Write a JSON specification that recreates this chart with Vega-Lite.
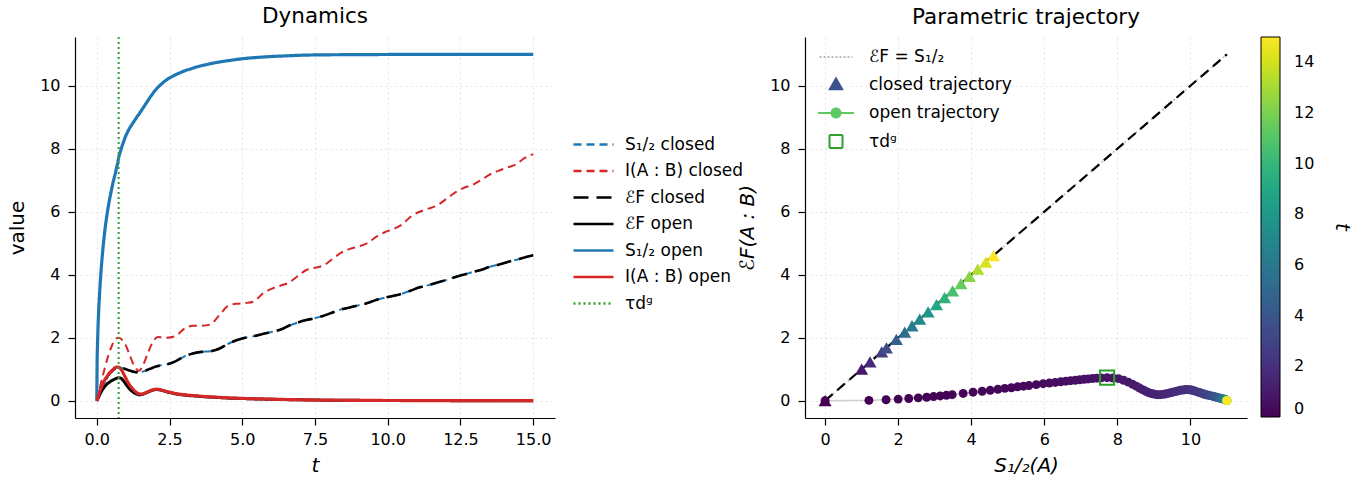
{
"$schema": "https://vega.github.io/schema/vega-lite/v6.json",
"background": "white",
"padding": {"left": 7, "top": 5, "right": 5, "bottom": 5},
"config": {
  "font": "DejaVu Sans",
  "view": {"stroke": null},
  "axis": {"domainColor": "black", "domainWidth": 1.2, "tickColor": "black", "tickSize": 7, "tickWidth": 1.2, "labelFontSize": 16, "labelColor": "black", "labelPadding": 6, "titleFontSize": 20, "titleFontWeight": "normal", "titleColor": "black", "gridColor": "#dddddd", "gridDash": [2, 3], "gridWidth": 0.8, "labelFont": "DejaVu Sans", "titleFont": "DejaVu Sans"},
  "title": {"fontSize": 21.5, "fontWeight": "normal", "font": "DejaVu Sans", "color": "black", "baseline": "alphabetic", "offset": 9},
  "legend": {"labelFontSize": 17, "labelFont": "DejaVu Sans", "labelColor": "black"}
},
"datasets": {
  "closed": [
    {"t": 0, "S_closed": 0, "E_closed": 0, "I_closed": 0},
    {"t": 0.1, "S_closed": 0.25, "E_closed": 0.25, "I_closed": 0.4},
    {"t": 0.25, "S_closed": 0.55, "E_closed": 0.55, "I_closed": 0.95},
    {"t": 0.4, "S_closed": 0.82, "E_closed": 0.82, "I_closed": 1.45},
    {"t": 0.5, "S_closed": 0.92, "E_closed": 0.92, "I_closed": 1.7},
    {"t": 0.6, "S_closed": 1.0, "E_closed": 1.0, "I_closed": 1.9},
    {"t": 0.75, "S_closed": 1.05, "E_closed": 1.05, "I_closed": 2.0},
    {"t": 0.9, "S_closed": 1.03, "E_closed": 1.03, "I_closed": 1.9},
    {"t": 1.0, "S_closed": 1.0, "E_closed": 1.0, "I_closed": 1.75},
    {"t": 1.15, "S_closed": 0.95, "E_closed": 0.95, "I_closed": 1.4},
    {"t": 1.3, "S_closed": 0.91, "E_closed": 0.91, "I_closed": 1.08},
    {"t": 1.45, "S_closed": 0.9, "E_closed": 0.9, "I_closed": 0.95},
    {"t": 1.6, "S_closed": 0.93, "E_closed": 0.93, "I_closed": 1.15},
    {"t": 1.75, "S_closed": 0.98, "E_closed": 0.98, "I_closed": 1.5},
    {"t": 1.9, "S_closed": 1.04, "E_closed": 1.04, "I_closed": 1.82},
    {"t": 2.1, "S_closed": 1.1, "E_closed": 1.1, "I_closed": 2.02},
    {"t": 2.4, "S_closed": 1.15, "E_closed": 1.15, "I_closed": 2.0},
    {"t": 2.7, "S_closed": 1.25, "E_closed": 1.25, "I_closed": 2.05},
    {"t": 3.0, "S_closed": 1.4, "E_closed": 1.4, "I_closed": 2.28},
    {"t": 3.3, "S_closed": 1.5, "E_closed": 1.5, "I_closed": 2.38},
    {"t": 3.6, "S_closed": 1.55, "E_closed": 1.55, "I_closed": 2.38},
    {"t": 3.9, "S_closed": 1.57, "E_closed": 1.57, "I_closed": 2.42},
    {"t": 4.2, "S_closed": 1.65, "E_closed": 1.65, "I_closed": 2.7},
    {"t": 4.5, "S_closed": 1.8, "E_closed": 1.8, "I_closed": 3.0},
    {"t": 4.8, "S_closed": 1.92, "E_closed": 1.92, "I_closed": 3.08},
    {"t": 5.1, "S_closed": 2.0, "E_closed": 2.0, "I_closed": 3.1},
    {"t": 5.4, "S_closed": 2.05, "E_closed": 2.05, "I_closed": 3.15},
    {"t": 5.7, "S_closed": 2.12, "E_closed": 2.12, "I_closed": 3.4},
    {"t": 6.0, "S_closed": 2.18, "E_closed": 2.18, "I_closed": 3.55},
    {"t": 6.3, "S_closed": 2.25, "E_closed": 2.25, "I_closed": 3.65},
    {"t": 6.6, "S_closed": 2.38, "E_closed": 2.38, "I_closed": 3.75},
    {"t": 6.9, "S_closed": 2.48, "E_closed": 2.48, "I_closed": 3.95},
    {"t": 7.2, "S_closed": 2.56, "E_closed": 2.56, "I_closed": 4.15},
    {"t": 7.5, "S_closed": 2.62, "E_closed": 2.62, "I_closed": 4.22},
    {"t": 7.8, "S_closed": 2.7, "E_closed": 2.7, "I_closed": 4.3},
    {"t": 8.1, "S_closed": 2.8, "E_closed": 2.8, "I_closed": 4.5},
    {"t": 8.4, "S_closed": 2.9, "E_closed": 2.9, "I_closed": 4.7},
    {"t": 8.7, "S_closed": 2.96, "E_closed": 2.96, "I_closed": 4.82},
    {"t": 9.0, "S_closed": 3.03, "E_closed": 3.03, "I_closed": 4.9},
    {"t": 9.3, "S_closed": 3.1, "E_closed": 3.1, "I_closed": 5.0},
    {"t": 9.6, "S_closed": 3.2, "E_closed": 3.2, "I_closed": 5.2},
    {"t": 9.9, "S_closed": 3.27, "E_closed": 3.27, "I_closed": 5.35},
    {"t": 10.2, "S_closed": 3.33, "E_closed": 3.33, "I_closed": 5.45},
    {"t": 10.5, "S_closed": 3.4, "E_closed": 3.4, "I_closed": 5.6},
    {"t": 10.8, "S_closed": 3.5, "E_closed": 3.5, "I_closed": 5.85},
    {"t": 11.1, "S_closed": 3.6, "E_closed": 3.6, "I_closed": 6.0},
    {"t": 11.4, "S_closed": 3.67, "E_closed": 3.67, "I_closed": 6.1},
    {"t": 11.7, "S_closed": 3.75, "E_closed": 3.75, "I_closed": 6.2},
    {"t": 12.0, "S_closed": 3.83, "E_closed": 3.83, "I_closed": 6.4},
    {"t": 12.3, "S_closed": 3.92, "E_closed": 3.92, "I_closed": 6.6},
    {"t": 12.6, "S_closed": 4.0, "E_closed": 4.0, "I_closed": 6.75},
    {"t": 12.9, "S_closed": 4.08, "E_closed": 4.08, "I_closed": 6.85},
    {"t": 13.2, "S_closed": 4.15, "E_closed": 4.15, "I_closed": 7.0},
    {"t": 13.5, "S_closed": 4.25, "E_closed": 4.25, "I_closed": 7.18},
    {"t": 13.8, "S_closed": 4.32, "E_closed": 4.32, "I_closed": 7.3},
    {"t": 14.1, "S_closed": 4.4, "E_closed": 4.4, "I_closed": 7.4},
    {"t": 14.4, "S_closed": 4.47, "E_closed": 4.47, "I_closed": 7.5},
    {"t": 14.7, "S_closed": 4.55, "E_closed": 4.55, "I_closed": 7.7},
    {"t": 15.0, "S_closed": 4.62, "E_closed": 4.62, "I_closed": 7.83}
  ],
  "open": [
    {"t": 0, "S_open": 0, "I_open": 0, "E_open": 0},
    {"t": 0.01, "S_open": 1.2, "I_open": 0.02, "E_open": 0.01},
    {"t": 0.02, "S_open": 1.67, "I_open": 0.05, "E_open": 0.03},
    {"t": 0.03, "S_open": 2.0, "I_open": 0.08, "E_open": 0.05},
    {"t": 0.04, "S_open": 2.29, "I_open": 0.11, "E_open": 0.07},
    {"t": 0.05, "S_open": 2.55, "I_open": 0.14, "E_open": 0.09},
    {"t": 0.06, "S_open": 2.78, "I_open": 0.17, "E_open": 0.11},
    {"t": 0.07, "S_open": 2.97, "I_open": 0.2, "E_open": 0.13},
    {"t": 0.08, "S_open": 3.15, "I_open": 0.23, "E_open": 0.15},
    {"t": 0.09, "S_open": 3.32, "I_open": 0.26, "E_open": 0.17},
    {"t": 0.1, "S_open": 3.48, "I_open": 0.29, "E_open": 0.19},
    {"t": 0.12, "S_open": 3.78, "I_open": 0.34, "E_open": 0.23},
    {"t": 0.14, "S_open": 4.05, "I_open": 0.39, "E_open": 0.27},
    {"t": 0.16, "S_open": 4.3, "I_open": 0.44, "E_open": 0.3},
    {"t": 0.18, "S_open": 4.52, "I_open": 0.48, "E_open": 0.33},
    {"t": 0.2, "S_open": 4.73, "I_open": 0.52, "E_open": 0.36},
    {"t": 0.22, "S_open": 4.92, "I_open": 0.56, "E_open": 0.39},
    {"t": 0.24, "S_open": 5.1, "I_open": 0.6, "E_open": 0.41},
    {"t": 0.26, "S_open": 5.27, "I_open": 0.63, "E_open": 0.44},
    {"t": 0.28, "S_open": 5.43, "I_open": 0.67, "E_open": 0.46},
    {"t": 0.3, "S_open": 5.58, "I_open": 0.7, "E_open": 0.48},
    {"t": 0.33, "S_open": 5.78, "I_open": 0.74, "E_open": 0.51},
    {"t": 0.36, "S_open": 5.97, "I_open": 0.78, "E_open": 0.54},
    {"t": 0.39, "S_open": 6.14, "I_open": 0.82, "E_open": 0.56},
    {"t": 0.42, "S_open": 6.3, "I_open": 0.86, "E_open": 0.58},
    {"t": 0.45, "S_open": 6.45, "I_open": 0.89, "E_open": 0.6},
    {"t": 0.48, "S_open": 6.59, "I_open": 0.92, "E_open": 0.62},
    {"t": 0.51, "S_open": 6.72, "I_open": 0.95, "E_open": 0.635},
    {"t": 0.54, "S_open": 6.85, "I_open": 0.98, "E_open": 0.65},
    {"t": 0.57, "S_open": 6.97, "I_open": 1.0, "E_open": 0.665},
    {"t": 0.6, "S_open": 7.09, "I_open": 1.03, "E_open": 0.68},
    {"t": 0.63, "S_open": 7.2, "I_open": 1.05, "E_open": 0.69},
    {"t": 0.66, "S_open": 7.32, "I_open": 1.06, "E_open": 0.705},
    {"t": 0.69, "S_open": 7.44, "I_open": 1.07, "E_open": 0.715},
    {"t": 0.72, "S_open": 7.56, "I_open": 1.07, "E_open": 0.725},
    {"t": 0.75, "S_open": 7.72, "I_open": 1.06, "E_open": 0.73},
    {"t": 0.8, "S_open": 7.88, "I_open": 1.03, "E_open": 0.72},
    {"t": 0.85, "S_open": 8.03, "I_open": 0.97, "E_open": 0.7},
    {"t": 0.9, "S_open": 8.17, "I_open": 0.89, "E_open": 0.65},
    {"t": 0.95, "S_open": 8.3, "I_open": 0.8, "E_open": 0.59},
    {"t": 1.0, "S_open": 8.42, "I_open": 0.71, "E_open": 0.52},
    {"t": 1.05, "S_open": 8.52, "I_open": 0.62, "E_open": 0.46},
    {"t": 1.1, "S_open": 8.61, "I_open": 0.54, "E_open": 0.4},
    {"t": 1.15, "S_open": 8.69, "I_open": 0.47, "E_open": 0.35},
    {"t": 1.2, "S_open": 8.76, "I_open": 0.41, "E_open": 0.31},
    {"t": 1.25, "S_open": 8.83, "I_open": 0.36, "E_open": 0.27},
    {"t": 1.3, "S_open": 8.9, "I_open": 0.31, "E_open": 0.24},
    {"t": 1.35, "S_open": 8.97, "I_open": 0.27, "E_open": 0.22},
    {"t": 1.4, "S_open": 9.04, "I_open": 0.24, "E_open": 0.2},
    {"t": 1.45, "S_open": 9.1, "I_open": 0.22, "E_open": 0.19},
    {"t": 1.5, "S_open": 9.17, "I_open": 0.21, "E_open": 0.19},
    {"t": 1.55, "S_open": 9.24, "I_open": 0.21, "E_open": 0.2},
    {"t": 1.6, "S_open": 9.31, "I_open": 0.22, "E_open": 0.21},
    {"t": 1.65, "S_open": 9.38, "I_open": 0.24, "E_open": 0.23},
    {"t": 1.7, "S_open": 9.45, "I_open": 0.26, "E_open": 0.25},
    {"t": 1.75, "S_open": 9.52, "I_open": 0.28, "E_open": 0.27},
    {"t": 1.8, "S_open": 9.59, "I_open": 0.3, "E_open": 0.29},
    {"t": 1.85, "S_open": 9.66, "I_open": 0.32, "E_open": 0.31},
    {"t": 1.9, "S_open": 9.72, "I_open": 0.34, "E_open": 0.33},
    {"t": 1.95, "S_open": 9.79, "I_open": 0.35, "E_open": 0.34},
    {"t": 2.0, "S_open": 9.85, "I_open": 0.36, "E_open": 0.35},
    {"t": 2.05, "S_open": 9.9, "I_open": 0.365, "E_open": 0.355},
    {"t": 2.1, "S_open": 9.95, "I_open": 0.36, "E_open": 0.35},
    {"t": 2.15, "S_open": 10.0, "I_open": 0.355, "E_open": 0.345},
    {"t": 2.2, "S_open": 10.04, "I_open": 0.345, "E_open": 0.335},
    {"t": 2.25, "S_open": 10.08, "I_open": 0.33, "E_open": 0.32},
    {"t": 2.3, "S_open": 10.12, "I_open": 0.32, "E_open": 0.31},
    {"t": 2.4, "S_open": 10.19, "I_open": 0.29, "E_open": 0.28},
    {"t": 2.5, "S_open": 10.25, "I_open": 0.27, "E_open": 0.26},
    {"t": 2.6, "S_open": 10.3, "I_open": 0.25, "E_open": 0.24},
    {"t": 2.7, "S_open": 10.35, "I_open": 0.23, "E_open": 0.22},
    {"t": 2.8, "S_open": 10.39, "I_open": 0.21, "E_open": 0.2},
    {"t": 2.9, "S_open": 10.43, "I_open": 0.2, "E_open": 0.19},
    {"t": 3.0, "S_open": 10.47, "I_open": 0.19, "E_open": 0.18},
    {"t": 3.2, "S_open": 10.53, "I_open": 0.17, "E_open": 0.16},
    {"t": 3.4, "S_open": 10.59, "I_open": 0.155, "E_open": 0.15},
    {"t": 3.6, "S_open": 10.64, "I_open": 0.14, "E_open": 0.13},
    {"t": 3.8, "S_open": 10.68, "I_open": 0.125, "E_open": 0.12},
    {"t": 4.0, "S_open": 10.72, "I_open": 0.115, "E_open": 0.11},
    {"t": 4.3, "S_open": 10.77, "I_open": 0.1, "E_open": 0.095},
    {"t": 4.6, "S_open": 10.81, "I_open": 0.085, "E_open": 0.08},
    {"t": 5.0, "S_open": 10.86, "I_open": 0.073, "E_open": 0.07},
    {"t": 5.5, "S_open": 10.9, "I_open": 0.058, "E_open": 0.055},
    {"t": 6.0, "S_open": 10.93, "I_open": 0.047, "E_open": 0.045},
    {"t": 6.5, "S_open": 10.95, "I_open": 0.037, "E_open": 0.035},
    {"t": 7.0, "S_open": 10.97, "I_open": 0.029, "E_open": 0.028},
    {"t": 7.5, "S_open": 10.98, "I_open": 0.021, "E_open": 0.02},
    {"t": 8.0, "S_open": 10.985, "I_open": 0.016, "E_open": 0.015},
    {"t": 9.0, "S_open": 10.99, "I_open": 0.01, "E_open": 0.01},
    {"t": 10.0, "S_open": 10.995, "I_open": 0.006, "E_open": 0.006},
    {"t": 11.0, "S_open": 11.0, "I_open": 0.004, "E_open": 0.004},
    {"t": 12.0, "S_open": 11.0, "I_open": 0.002, "E_open": 0.002},
    {"t": 13.0, "S_open": 11.0, "I_open": 0.001, "E_open": 0.001},
    {"t": 14.0, "S_open": 11.0, "I_open": 0.0, "E_open": 0.0},
    {"t": 15.0, "S_open": 11.0, "I_open": 0.0, "E_open": 0.0}
  ],
  "tri": [
    {"t": 0, "S": 0, "E": 0},
    {"t": 0.88, "S": 1.0, "E": 1.0},
    {"t": 1.76, "S": 1.23, "E": 1.23},
    {"t": 2.65, "S": 1.55, "E": 1.55},
    {"t": 3.53, "S": 1.68, "E": 1.68},
    {"t": 4.41, "S": 1.95, "E": 1.95},
    {"t": 5.29, "S": 2.18, "E": 2.18},
    {"t": 6.18, "S": 2.38, "E": 2.38},
    {"t": 7.06, "S": 2.59, "E": 2.59},
    {"t": 7.94, "S": 2.82, "E": 2.82},
    {"t": 8.82, "S": 3.05, "E": 3.05},
    {"t": 9.71, "S": 3.27, "E": 3.27},
    {"t": 10.59, "S": 3.49, "E": 3.49},
    {"t": 11.47, "S": 3.72, "E": 3.72},
    {"t": 12.35, "S": 3.95, "E": 3.95},
    {"t": 13.24, "S": 4.18, "E": 4.18},
    {"t": 14.12, "S": 4.4, "E": 4.4},
    {"t": 15.0, "S": 4.61, "E": 4.61}
  ],
  "diag": [{"S": 0, "E": 0}, {"S": 11, "E": 11}],
  "items": [{"item": "eq"}, {"item": "closed"}, {"item": "open"}, {"item": "tau"}]
},
"spacing": 250,
"bounds": "flush",
"resolve": {"scale": {"color": "independent", "strokeDash": "independent", "fill": "independent", "stroke": "independent", "shape": "independent"}},
"hconcat": [
  {
    "title": "Dynamics",
    "width": 480,
    "height": 381,
    "layer": [
      {
        "data": {"name": "closed"},
        "transform": [{"fold": ["S_closed"], "as": ["series", "value"]}],
        "mark": {"type": "line", "interpolate": "monotone", "strokeWidth": 2},
        "encoding": {
          "x": {"field": "t", "type": "quantitative", "scale": {"domain": [-0.75, 15.75], "nice": false, "zero": false}, "axis": {"values": [0, 2.5, 5, 7.5, 10, 12.5, 15], "format": ".1f", "title": "t", "titleFontStyle": "italic", "titlePadding": 8}},
          "y": {"field": "value", "type": "quantitative", "scale": {"domain": [-0.55, 11.55], "nice": false, "zero": false}, "axis": {"values": [0, 2, 4, 6, 8, 10], "title": "value", "titlePadding": 12, "labelPadding": 8}},
          "color": {"field": "series", "type": "nominal", "scale": {"domain": ["S_closed", "I_closed", "E_closed", "E_open", "S_open", "I_open", "tau"], "range": ["#1f77b4", "#d62728", "#000000", "#000000", "#1f77b4", "#d62728", "#2ca02c"]}, "legend": {"title": null, "orient": "none", "legendX": 507, "legendY": 96, "symbolType": "M-2,0H2", "symbolSize": 400, "symbolStrokeWidth": 2.5, "labelOffset": 20, "rowPadding": 6.5, "padding": 0, "labelExpr": "datum.value == 'S_closed' ? 'S₁/₂ closed' : datum.value == 'I_closed' ? 'I(A : B) closed' : datum.value == 'E_closed' ? 'ℰF closed' : datum.value == 'E_open' ? 'ℰF open' : datum.value == 'S_open' ? 'S₁/₂ open' : datum.value == 'I_open' ? 'I(A : B) open' : 'τdᵍ'"}},
          "strokeDash": {"field": "series", "type": "nominal", "scale": {"domain": ["S_closed", "I_closed", "E_closed", "E_open", "S_open", "I_open", "tau"], "range": [[8, 5], [8, 5], [15, 8], [1, 0], [1, 0], [1, 0], [2, 3]]}}
        }
      },
      {
        "data": {"name": "closed"},
        "transform": [{"fold": ["I_closed"], "as": ["series", "value"]}],
        "mark": {"type": "line", "interpolate": "monotone", "strokeWidth": 2},
        "encoding": {
          "x": {"field": "t", "type": "quantitative"},
          "y": {"field": "value", "type": "quantitative"},
          "color": {"field": "series", "type": "nominal"},
          "strokeDash": {"field": "series", "type": "nominal"}
        }
      },
      {
        "data": {"name": "closed"},
        "transform": [{"fold": ["E_closed"], "as": ["series", "value"]}],
        "mark": {"type": "line", "interpolate": "monotone", "strokeWidth": 2.6},
        "encoding": {
          "x": {"field": "t", "type": "quantitative"},
          "y": {"field": "value", "type": "quantitative"},
          "color": {"field": "series", "type": "nominal"},
          "strokeDash": {"field": "series", "type": "nominal"}
        }
      },
      {
        "data": {"name": "open"},
        "transform": [{"fold": ["E_open"], "as": ["series", "value"]}],
        "mark": {"type": "line", "interpolate": "monotone", "strokeWidth": 3},
        "encoding": {
          "x": {"field": "t", "type": "quantitative"},
          "y": {"field": "value", "type": "quantitative"},
          "color": {"field": "series", "type": "nominal"},
          "strokeDash": {"field": "series", "type": "nominal"}
        }
      },
      {
        "data": {"name": "open"},
        "transform": [{"fold": ["S_open"], "as": ["series", "value"]}],
        "mark": {"type": "line", "interpolate": "monotone", "strokeWidth": 3.2},
        "encoding": {
          "x": {"field": "t", "type": "quantitative"},
          "y": {"field": "value", "type": "quantitative"},
          "color": {"field": "series", "type": "nominal"},
          "strokeDash": {"field": "series", "type": "nominal"}
        }
      },
      {
        "data": {"name": "open"},
        "transform": [{"fold": ["I_open"], "as": ["series", "value"]}],
        "mark": {"type": "line", "interpolate": "monotone", "strokeWidth": 3.2},
        "encoding": {
          "x": {"field": "t", "type": "quantitative"},
          "y": {"field": "value", "type": "quantitative"},
          "color": {"field": "series", "type": "nominal"},
          "strokeDash": {"field": "series", "type": "nominal"}
        }
      },
      {
        "data": {"values": [{"t": 0.75, "series": "tau"}]},
        "mark": {"type": "rule", "strokeWidth": 2},
        "encoding": {
          "x": {"field": "t", "type": "quantitative"},
          "color": {"field": "series", "type": "nominal"},
          "strokeDash": {"field": "series", "type": "nominal"}
        }
      }
    ]
  },
  {
    "title": "Parametric trajectory",
    "width": 442,
    "height": 381,
    "layer": [
      {
        "data": {"name": "diag"},
        "mark": {"type": "line", "color": "#bbbbbb", "strokeDash": [2, 3], "strokeWidth": 1.5},
        "encoding": {
          "x": {"field": "S", "type": "quantitative", "scale": {"domain": [-0.55, 11.55], "nice": false, "zero": false}, "axis": {"values": [0, 2, 4, 6, 8, 10], "title": "S₁/₂(A)", "titleFontStyle": "italic", "titlePadding": 8}},
          "y": {"field": "E", "type": "quantitative", "scale": {"domain": [-0.55, 11.55], "nice": false, "zero": false}, "axis": {"values": [0, 2, 4, 6, 8, 10], "title": "ℰF(A : B)", "titleFontStyle": "italic", "titlePadding": 12, "labelPadding": 8}}
        }
      },
      {
        "data": {"name": "diag"},
        "mark": {"type": "line", "color": "#000000", "strokeDash": [10, 6], "strokeWidth": 2.2},
        "encoding": {
          "x": {"field": "S", "type": "quantitative"},
          "y": {"field": "E", "type": "quantitative"}
        }
      },
      {
        "data": {"name": "open"},
        "mark": {"type": "line", "color": "#d0d0d0", "strokeWidth": 1.5},
        "encoding": {
          "x": {"field": "S_open", "type": "quantitative"},
          "y": {"field": "E_open", "type": "quantitative"},
          "order": {"field": "t", "type": "quantitative"}
        }
      },
      {
        "data": {"name": "open"},
        "mark": {"type": "circle", "size": 80, "opacity": 1},
        "encoding": {
          "x": {"field": "S_open", "type": "quantitative"},
          "y": {"field": "E_open", "type": "quantitative"},
          "color": {"field": "t", "type": "quantitative", "scale": {"scheme": "viridis", "domain": [0, 15], "nice": false}, "legend": {"title": "t", "titleFontStyle": "italic", "titleFontSize": 20, "titleFontWeight": "normal", "titleOrient": "right", "orient": "right", "offset": 14, "padding": 0, "gradientLength": 380, "gradientThickness": 19, "gradientStrokeColor": "black", "gradientStrokeWidth": 1, "values": [0, 2, 4, 6, 8, 10, 12, 14], "labelFontSize": 16, "labelOffset": 14, "titlePadding": 18, "encode": {"title": {"update": {"angle": {"value": -90}}}}}}
        }
      },
      {
        "data": {"name": "tri"},
        "mark": {"type": "point", "shape": "triangle-up", "filled": true, "size": 170, "opacity": 1},
        "encoding": {
          "x": {"field": "S", "type": "quantitative"},
          "y": {"field": "E", "type": "quantitative"},
          "color": {"field": "t", "type": "quantitative"}
        }
      },
      {
        "data": {"values": [{"S": 7.72, "E": 0.73}]},
        "mark": {"type": "point", "shape": "square", "size": 200, "filled": false, "stroke": "#2ca02c", "strokeWidth": 2, "opacity": 1},
        "encoding": {
          "x": {"field": "S", "type": "quantitative"},
          "y": {"field": "E", "type": "quantitative"}
        }
      },
      {
        "data": {"name": "items"},
        "transform": [{"filter": "false"}],
        "mark": {"type": "point", "opacity": 1},
        "encoding": {
          "fill": {"field": "item", "type": "nominal", "scale": {"domain": ["eq", "closed", "open", "tau"], "range": ["transparent", "#3b528b", "#5ec962", "transparent"]}, "legend": {"title": null, "orient": "none", "legendX": 20, "legendY": 9, "symbolSize": 400, "symbolStrokeWidth": 2, "symbolOpacity": 1, "labelOffset": 22, "rowPadding": 8.5, "padding": 0, "labelExpr": "datum.value == 'eq' ? 'ℰF = S₁/₂' : datum.value == 'closed' ? 'closed trajectory' : datum.value == 'open' ? 'open trajectory' : 'τdᵍ'"}},
          "stroke": {"field": "item", "type": "nominal", "scale": {"domain": ["eq", "closed", "open", "tau"], "range": ["#bbbbbb", "#3b528b", "#5ec962", "#2ca02c"]}},
          "shape": {"field": "item", "type": "nominal", "scale": {"domain": ["eq", "closed", "open", "tau"], "range": ["M-1.65,0H1.65", "M0,-0.6L0.62,0.48L-0.62,0.48Z", "M-1.8,0H1.8M0.45,0A0.45,0.45,0,1,1,-0.45,0A0.45,0.45,0,1,1,0.45,0Z", "M-0.65,-0.65H0.65V0.65H-0.65Z"]}},
          "strokeDash": {"field": "item", "type": "nominal", "scale": {"domain": ["eq", "closed", "open", "tau"], "range": [[2, 2], [1, 0], [1, 0], [1, 0]]}}
        }
      }
    ]
  }
]
}
